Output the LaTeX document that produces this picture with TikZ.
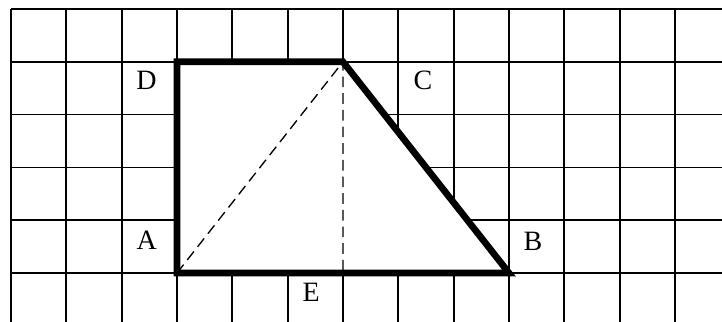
\documentclass[tikz,border=0pt]{standalone}
\usepackage{fontspec}
\setmainfont{Liberation Serif}

\tikzset{
  gridline/.style={line width=1.3pt},
  edge/.style={line width=5pt,line join=miter},
  helper/.style={line width=1pt,dash pattern=on 8pt off 4.5pt},
  lbl/.style={inner sep=0pt,font=\fontsize{21}{21}\selectfont}
}

\begin{document}
\begin{tikzpicture}[x=41.5pt,y=-39.6pt]
  \useasboundingbox (-0.1988,-0.1705) rectangle (12.85,5.928);
  \clip (-0.1988,-0.1705) rectangle (12.85,5.928);
  \foreach \c in {0,...,12}{\draw[gridline] (\c,0) -- (\c,6);}
  \foreach \r in {0,...,5}{\draw[gridline] (0,\r) -- (13,\r);}
  \coordinate (A) at (3,5);
  \coordinate (B) at (9,5);
  \coordinate (top) at (6,1);
  \coordinate (D) at (3,1);
  \coordinate (foot) at (6,5);
  \fill[white] (A) -- (B) -- (top) -- (D) -- cycle;
  \draw[helper] (A) -- (top) -- (foot);
  \draw[edge] (A) -- (B) -- (top) -- (D) -- cycle;
  \node[lbl] (labD) at (2.449,1.354) {D};
  \node[lbl] (labC) at (7.446,1.345) {C};
  \node[lbl] (labA) at (2.452,4.375) {A};
  \node[lbl] (labB) at (9.435,4.394) {B};
  \node[lbl] (labE) at (5.427,5.373) {E};
\end{tikzpicture}
\end{document}
